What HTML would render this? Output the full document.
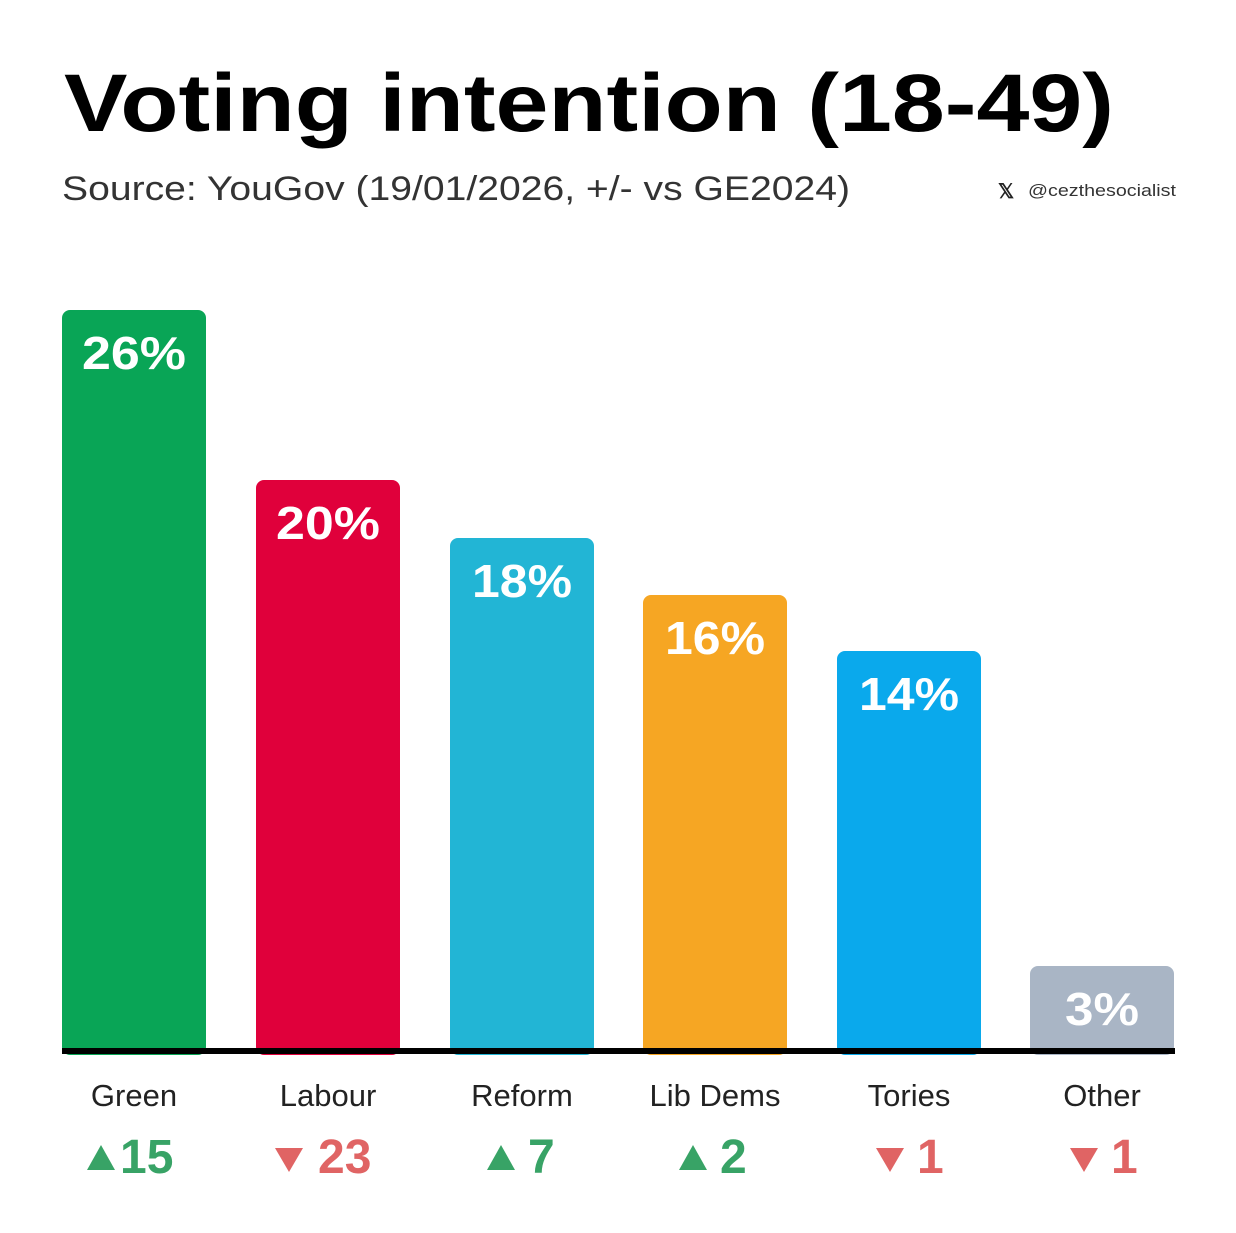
<!DOCTYPE html>
<html><head><meta charset="utf-8"><style>
html,body{margin:0;padding:0;background:#fff;}
svg{display:block;}
text{font-family:"Liberation Sans",Arial,sans-serif;}
</style></head><body>
<svg width="1236" height="1233" viewBox="0 0 1236 1233" xmlns="http://www.w3.org/2000/svg">
<rect width="1236" height="1233" fill="#fff"/>
<text x="64" y="131" font-size="82" font-weight="bold" fill="#000" textLength="1050" lengthAdjust="spacingAndGlyphs">Voting intention (18-49)</text>
<text x="62" y="200" font-size="34" fill="#333" textLength="788" lengthAdjust="spacingAndGlyphs">Source: YouGov (19/01/2026, +/- vs GE2024)</text>
<text x="998" y="198" font-size="20" font-weight="bold" fill="#222">𝕏</text>
<text x="1028" y="196" font-size="17" fill="#333" textLength="148" lengthAdjust="spacingAndGlyphs">@cezthesocialist</text>

<rect x="62" y="310" width="144" height="745" rx="8" fill="#09a556"/>
<rect x="256" y="480" width="144" height="575" rx="8" fill="#e0003b"/>
<rect x="450" y="538" width="144" height="517" rx="8" fill="#22b5d5"/>
<rect x="643" y="595" width="144" height="460" rx="8" fill="#f6a623"/>
<rect x="837" y="651" width="144" height="404" rx="8" fill="#0aa9ec"/>
<rect x="1030" y="966" width="144" height="89" rx="8" fill="#a9b5c5"/>
<rect x="62" y="1048" width="1113" height="6" fill="#000"/>

<g font-size="46" font-weight="bold" fill="#fff" text-anchor="middle">
<text x="134" y="369" textLength="104" lengthAdjust="spacingAndGlyphs">26%</text>
<text x="328" y="539" textLength="104" lengthAdjust="spacingAndGlyphs">20%</text>
<text x="522" y="597" textLength="100" lengthAdjust="spacingAndGlyphs">18%</text>
<text x="715" y="654" textLength="100" lengthAdjust="spacingAndGlyphs">16%</text>
<text x="909" y="710" textLength="100" lengthAdjust="spacingAndGlyphs">14%</text>
<text x="1102" y="1025" textLength="74" lengthAdjust="spacingAndGlyphs">3%</text>
</g>
<g font-size="31" fill="#222" text-anchor="middle">
<text x="134" y="1106">Green</text>
<text x="328" y="1106">Labour</text>
<text x="522" y="1106">Reform</text>
<text x="715" y="1106">Lib Dems</text>
<text x="909" y="1106">Tories</text>
<text x="1102" y="1106">Other</text>
</g>
<g font-size="48" font-weight="bold">
<polygon points="87,1170 115,1170 101,1145" fill="#38a366"/>
<text x="120" y="1173" fill="#38a366">15</text>
<polygon points="275,1148 303,1148 289,1172" fill="#e06464"/>
<text x="318" y="1173" fill="#e06464">23</text>
<polygon points="487,1170 515,1170 501,1145" fill="#38a366"/>
<text x="528" y="1173" fill="#38a366">7</text>
<polygon points="679,1170 707,1170 693,1145" fill="#38a366"/>
<text x="720" y="1173" fill="#38a366">2</text>
<polygon points="876,1148 904,1148 890,1172" fill="#e06464"/>
<text x="917" y="1173" fill="#e06464">1</text>
<polygon points="1070,1148 1098,1148 1084,1172" fill="#e06464"/>
<text x="1111" y="1173" fill="#e06464">1</text>
</g>
</svg>
</body></html>
